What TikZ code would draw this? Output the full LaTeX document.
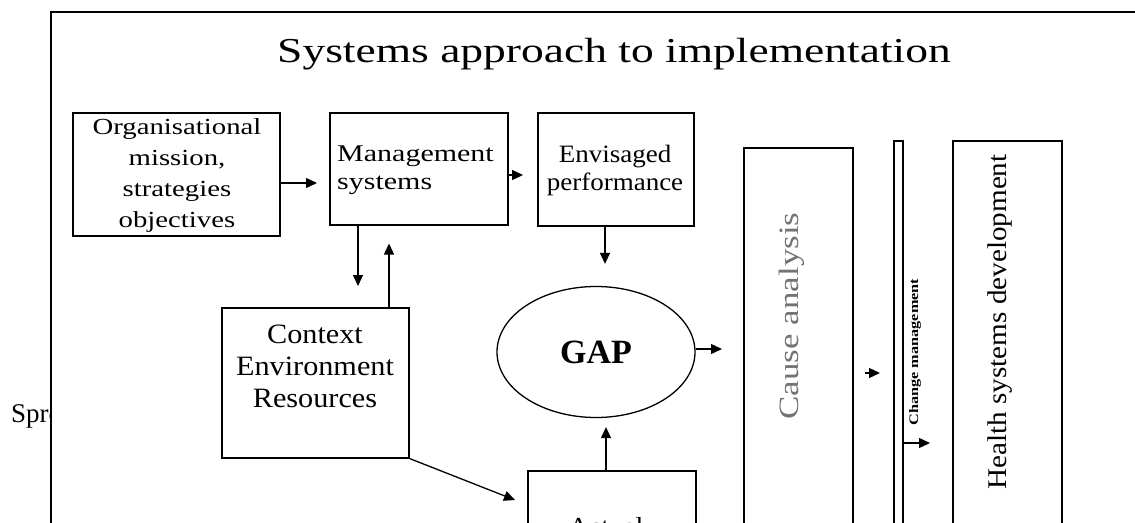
\documentclass[tikz,border=0pt]{standalone}
\usepackage{fontspec}
\setmainfont{Liberation Serif}
\newfontfamily\wideserif[FakeStretch=1.25]{Liberation Serif}
\newfontfamily\titleserif[FakeStretch=1.3]{Liberation Serif}
\newfontfamily\midserif[FakeStretch=1.08]{Liberation Serif}
\usetikzlibrary{arrows.meta,shapes.geometric}
\begin{document}
\begin{tikzpicture}[x=1pt,y=-1pt,
  box/.style={draw,line width=1.5pt,rectangle,inner sep=0pt,anchor=north west},
  arr/.style={line width=1.3pt,-{Triangle[length=11pt,width=10pt]}}]
\useasboundingbox (0,0) rectangle (1135,522);
\clip (0,0) rectangle (1135,522);
% stray text behind frame
\node[anchor=base west,inner sep=0pt,font=\fontsize{27}{27}\selectfont] (spr) at (11,422) {Spre};
% frame
\draw[line width=1.5pt,fill=white] (51,12) rectangle (1160,560);
% title
\node[anchor=base,inner sep=0pt,font=\titleserif\fontsize{35}{35}\selectfont] (title) at (614,62) {Systems approach to implementation};
% boxes
\node[box,minimum width=207,minimum height=123] (org) at (72,112) {};
\node[box,minimum width=178,minimum height=112] (mgmt) at (329,112) {};
\node[box,minimum width=156,minimum height=113] (env) at (537,112) {};
\node[box,minimum width=187,minimum height=150] (ctx) at (221,307) {};
\node[draw,line width=1.3pt,ellipse,minimum width=198,minimum height=131,inner sep=0pt] (gap) at (596,352) {};
\node[box,minimum width=168,minimum height=130] (act) at (527,470) {};
\node[box,minimum width=109,minimum height=420] (cause) at (743,147) {};
\node[box,minimum width=9,minimum height=430] (chg) at (893,140) {};
\node[box,minimum width=109,minimum height=430] (hsd) at (952,140) {};
% texts
\node[align=center,inner sep=0pt,font=\wideserif\fontsize{23}{31}\selectfont] (orgt) at (177,175) {Organisational\\mission,\\strategies\\objectives};
\node[align=left,anchor=west,inner sep=0pt,font=\wideserif\fontsize{24}{28}\selectfont] (mgmtt) at (337,170) {Management\\systems};
\node[align=center,inner sep=0pt,font=\midserif\fontsize{25}{28}\selectfont] (envt) at (615,170) {Envisaged\\performance};
\node[align=center,inner sep=0pt,font=\midserif\fontsize{28}{32}\selectfont] (ctxt) at (315,366) {Context\\Environment\\Resources};
\node[inner sep=0pt,font=\bfseries\fontsize{34}{34}\selectfont] (gapt) at (gap.center) {GAP};
\node[anchor=base,inner sep=0pt,font=\midserif\fontsize{26}{26}\selectfont] (actt) at (606,535) {Actual};
\node[rotate=90,inner sep=0pt,text=black!55,font=\wideserif\fontsize{28}{28}\selectfont] (causet) at (792,316) {Cause analysis};
\node[rotate=90,inner sep=0pt,font=\bfseries\wideserif\fontsize{13}{13}\selectfont] (chgt) at (915,352) {Change management};
\node[rotate=90,inner sep=0pt,font=\midserif\fontsize{27}{27}\selectfont] (hsdt) at (1000,322) {Health systems development};
% connectors
\draw[arr,shorten >=12pt] (org.east |- 0,183) -- (mgmt.west |- 0,183);
\draw[arr,shorten >=14pt] (mgmt.east |- 0,175) -- (env.west |- 0,175);
\draw[arr,shorten >=22pt] (env.south -| 605,0) -- (gap.north -| 605,0);
\draw[arr,shorten >=21pt] (gap.east |- 0,349) -- (cause.west |- 0,349);
\draw[arr,shorten <=11pt,shorten >=13pt] (cause.east |- 0,373) -- (chg.west |- 0,373);
\draw[arr,shorten >=22pt] (chg.east |- 0,443) -- (hsd.west |- 0,443);
\draw[arr,shorten >=21pt] (mgmt.south -| 358,0) -- (ctx.north -| 358,0);
\draw[arr,shorten >=18pt] (ctx.north -| 389,0) -- (mgmt.south -| 389,0);
\coordinate (acttip) at (515,500);
\draw[arr] (ctx.south east) -- (acttip);
\draw[arr,shorten >=9pt] (act.north -| 606,0) -- (gap.south -| 606,0);
\end{tikzpicture}
\end{document}
